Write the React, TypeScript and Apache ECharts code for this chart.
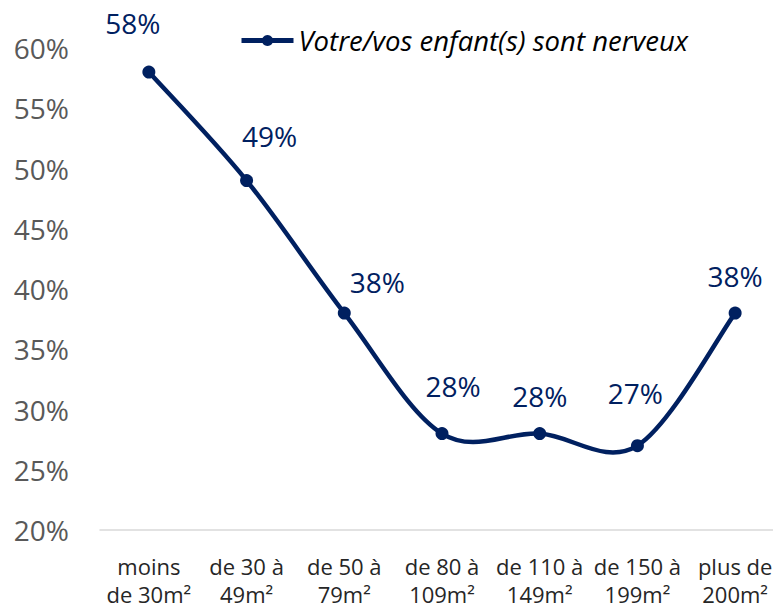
import React, { useEffect, useRef } from "react";
import * as echarts from "echarts";

const categories = [
  "moins\nde 30m²",
  "de 30 à\n49m²",
  "de 50 à\n79m²",
  "de 80 à\n109m²",
  "de 110 à\n149m²",
  "de 150 à\n199m²",
  "plus de\n200m²",
];
const seriesName = "Votre/vos enfant(s) sont nerveux";
const values = [58, 49, 38, 28, 28, 27, 38];
const yTicks = { min: 20, max: 60, interval: 5 };
const labelOffsets = [
  [-16, -24],
  [23, -19],
  [33, -6],
  [11, -22],
  [0, -12],
  [-2, -27],
  [0, -12],
];

const NAVY = "#002060";
const FONT = "'Open Sans', sans-serif";

export default function App() {
  const ref = useRef<HTMLDivElement>(null);
  useEffect(() => {
    document.body.style.margin = "0";
    if (!ref.current) return;
    const chart = echarts.init(ref.current, null, { renderer: "svg" });
    chart.setOption({
      animation: false,
      textStyle: { fontFamily: FONT },
      grid: {
        left: 100,
        right: -11,
        top: 48,
        bottom: 78,
        outerBoundsMode: "none",
        containLabel: false,
      },
      legend: {
        data: [
          {
            name: seriesName,
            itemStyle: { color: NAVY },
            lineStyle: { color: NAVY, width: 5, opacity: 1 },
          },
        ],
        left: 234,
        top: 22,
        itemWidth: 52,
        itemHeight: 14,
        itemGap: 5,
        textStyle: {
          fontFamily: FONT,
          fontStyle: "italic",
          fontSize: 27.5,
          color: "#000",
        },
      },
      xAxis: {
        type: "category",
        data: categories,
        boundaryGap: true,
        axisLine: { lineStyle: { color: "#d9d9d9", width: 1.5 } },
        axisTick: { show: false },
        axisLabel: {
          fontFamily: FONT,
          fontSize: 22,
          lineHeight: 28,
          color: "#262626",
          margin: 22,
          interval: 0,
        },
      },
      yAxis: {
        type: "value",
        min: yTicks.min,
        max: yTicks.max,
        interval: yTicks.interval,
        splitLine: { show: false },
        axisLine: { show: false },
        axisTick: { show: false },
        axisLabel: {
          fontFamily: FONT,
          fontSize: 28,
          color: "#595959",
          margin: 31,
          formatter: (v: number) => v + "%",
        },
      },
      series: [
        {
          type: "custom",
          silent: true,
          data: values.map((v, i) => [i, v]),
          encode: { x: 0, y: 1 },
          z: 1,
          renderItem: (params: any, api: any) => {
            if (params.dataIndex !== 0) return null;
            const pts = values.map((v, i) => api.coord([i, v]));
            const n = pts.length;
            const t = 1 / 6;
            let d = `M${pts[0][0]},${pts[0][1]}`;
            for (let i = 0; i < n - 1; i++) {
              const p0 = pts[Math.max(i - 1, 0)];
              const p1 = pts[i];
              const p2 = pts[i + 1];
              const p3 = pts[Math.min(i + 2, n - 1)];
              const c1x = p1[0] + (p2[0] - p0[0]) * t;
              const c1y = p1[1] + (p2[1] - p0[1]) * t;
              const c2x = p2[0] - (p3[0] - p1[0]) * t;
              const c2y = p2[1] - (p3[1] - p1[1]) * t;
              d += ` C${c1x},${c1y} ${c2x},${c2y} ${p2[0]},${p2[1]}`;
            }
            return {
              type: "path",
              shape: { pathData: d },
              style: {
                fill: "none",
                stroke: NAVY,
                lineWidth: 4.5,
                lineCap: "round",
                lineJoin: "round",
              },
            };
          },
        },
        {
          name: seriesName,
          type: "line",
          z: 3,
          data: values.map((v, i) => ({
            value: v,
            label: { offset: labelOffsets[i] },
          })),
          symbol: "circle",
          symbolSize: 13,
          lineStyle: { color: NAVY, width: 5, opacity: 0 },
          itemStyle: { color: NAVY },
          label: {
            show: true,
            position: "top",
            distance: 5,
            fontFamily: FONT,
            fontSize: 28,
            color: NAVY,
            formatter: (p: any) => p.value + "%",
          },
        },
      ],
    });
    return () => chart.dispose();
  }, []);
  return <div ref={ref} style={{ width: 773, height: 608 }} />;
}
